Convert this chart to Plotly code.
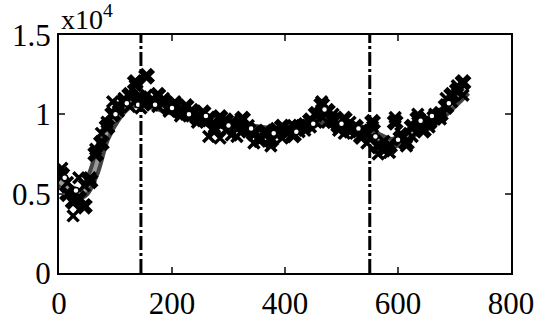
import plotly.graph_objects as go

# ---- data (values in units of 1e4) ----
x_pts = [5, 15, 25, 35, 45, 55, 65, 75, 85, 95, 105, 115, 125, 135, 145, 155, 165, 175, 185, 195,
         205, 215, 225, 235, 245, 255, 265, 275, 285, 295, 305, 315, 325, 335, 345, 355, 365, 375,
         385, 395, 405, 415, 425, 435, 445, 455, 465, 475, 485, 495, 505, 515, 525, 535, 545, 555,
         565, 575, 585, 595, 605, 615, 625, 635, 645, 655, 665, 675, 685, 695, 705, 715]
y_series1 = [0.62, 0.50, 0.45, 0.47, 0.42, 0.58, 0.75, 0.82, 0.92, 1.00, 1.05, 1.08, 1.12, 1.20, 1.10,
             1.24, 1.07, 1.12, 1.08, 1.04, 1.06, 1.02, 1.05, 1.00, 0.98, 1.01, 0.97, 0.90, 0.98, 0.96,
             0.94, 0.92, 0.97, 0.90, 0.88, 0.85, 0.88, 0.84, 0.88, 0.92, 0.90, 0.87, 0.92, 0.93, 0.96,
             1.00, 1.06, 1.02, 0.96, 0.93, 0.97, 0.90, 0.92, 0.86, 0.88, 0.95, 0.80, 0.78, 0.80, 0.95,
             0.85, 0.82, 0.92, 0.97, 0.90, 0.95, 0.98, 1.00, 1.05, 1.12, 1.15, 1.20]
y_series2 = [0.66, 0.57, 0.36, 0.60, 0.55, 0.60, 0.78, 0.88, 0.95, 1.08, 1.02, 1.10, 1.05, 1.18, 1.04,
             1.12, 1.10, 1.05, 1.10, 1.02, 1.08, 0.99, 1.00, 1.03, 0.95, 0.96, 0.86, 0.92, 0.85, 0.90,
             0.87, 0.86, 0.90, 0.93, 0.82, 0.83, 0.90, 0.80, 0.91, 0.85, 0.88, 0.93, 0.89, 0.90, 0.92,
             0.95, 1.08, 0.95, 1.00, 0.90, 0.88, 0.95, 0.88, 0.90, 0.82, 0.92, 0.75, 0.83, 0.76, 0.98,
             0.88, 0.80, 0.86, 1.00, 0.95, 0.92, 1.00, 0.97, 1.10, 1.08, 1.18, 1.12]
x_circ = [10, 30, 100, 120, 140, 170, 200, 230, 260, 300, 340, 380, 420, 450, 470, 500, 530, 560,
          600, 640, 660, 690]
y_circ = [0.60, 0.52, 1.00, 1.07, 1.06, 1.06, 1.04, 1.00, 0.99, 0.93, 0.91, 0.88, 0.89, 0.94, 1.03,
          0.94, 0.91, 0.86, 0.84, 0.96, 0.99, 1.07]
x_trend = [0, 20, 40, 60, 80, 100, 120, 140, 160, 200, 250, 300, 350, 400, 450, 480, 520, 560, 590,
           620, 660, 700, 720]
y_trend = [0.58, 0.52, 0.50, 0.62, 0.85, 0.98, 1.06, 1.08, 1.07, 1.03, 0.98, 0.94, 0.90, 0.89, 0.95,
           0.98, 0.92, 0.86, 0.82, 0.88, 0.95, 1.08, 1.15]
vlines_x = [145, 550]
x_ticks = [0, 200, 400, 600, 800]
y_ticks = [0, 0.5, 1, 1.5]
y_tick_text = ["0", "0.5", "1", "1.5"]

FONT = "Liberation Serif"

fig = go.Figure()

# gray band (smoothed trend)
fig.add_trace(go.Scatter(x=x_trend, y=y_trend, mode="lines", line=dict(color="#444444", width=12, shape="spline"),
                         hoverinfo="skip", showlegend=False))
fig.add_trace(go.Scatter(x=x_trend, y=y_trend, mode="lines", line=dict(color="#9a9a9a", width=4, shape="spline"),
                         hoverinfo="skip", showlegend=False))

fig.add_trace(go.Scatter(x=x_pts, y=y_series2, mode="markers",
                         marker=dict(symbol="x-thin", size=11, line=dict(color="black", width=3.5)),
                         showlegend=False))
fig.add_trace(go.Scatter(x=x_pts, y=y_series1, mode="markers",
                         marker=dict(symbol="x", size=15, color="black", line=dict(width=0)),
                         showlegend=False))
fig.add_trace(go.Scatter(x=x_circ, y=y_circ, mode="markers",
                         marker=dict(symbol="circle", size=6, color="white", line=dict(color="black", width=1.5)),
                         showlegend=False))

for xv in vlines_x:
    fig.add_trace(go.Scatter(x=[xv, xv], y=[0, 1.5], mode="lines",
                             line=dict(color="black", width=3, dash="14px,3px,3px,3px"),
                             showlegend=False))

TICKFONT = dict(family=FONT, size=31, color="black")

fig.update_layout(
    width=550, height=333,
    margin=dict(l=59, r=39, t=35, b=47),
    paper_bgcolor="white", plot_bgcolor="white",
    font=dict(family=FONT, size=31, color="black"),
    xaxis=dict(range=[0, 800], tickvals=x_ticks, ticks="inside", ticklen=6, tickwidth=1.5,
               showline=True, linecolor="black", linewidth=2, mirror="ticks", showgrid=False,
               zeroline=False, tickfont=TICKFONT, ticklabelstandoff=2),
    yaxis=dict(range=[0, 1.5], tickvals=y_ticks, ticktext=y_tick_text, ticks="inside", ticklen=6,
               tickwidth=1.5, showline=True, linecolor="black", linewidth=2, mirror="ticks",
               showgrid=False, zeroline=False, tickfont=TICKFONT),
    annotations=[dict(text="x10<sup>4</sup>", x=0, y=1, xref="paper", yref="paper",
                      xanchor="left", yanchor="bottom", yshift=-2, showarrow=False,
                      font=dict(family=FONT, size=28, color="black"))],
)

fig.write_html("out.html")
